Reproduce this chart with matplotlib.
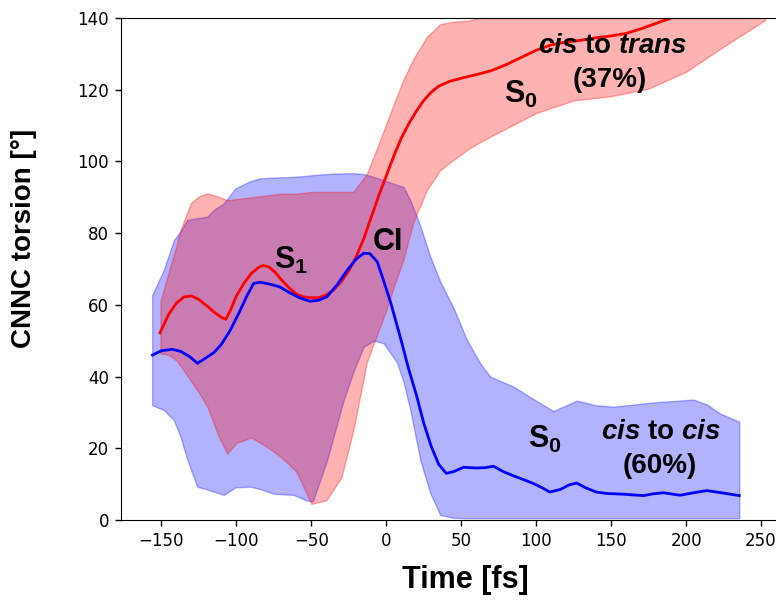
import numpy as np
import matplotlib
matplotlib.use("Agg")
import matplotlib.pyplot as plt

plt.rcParams['font.family'] = ['Liberation Sans', 'DejaVu Sans']
plt.rcParams['mathtext.fontset'] = 'custom'
plt.rcParams['mathtext.rm'] = 'Liberation Sans'
plt.rcParams['mathtext.bf'] = 'Liberation Sans:bold'
plt.rcParams['mathtext.it'] = 'Liberation Sans:italic'
plt.rcParams['mathtext.bfit'] = 'Liberation Sans:italic:bold'

# cis -> trans (red): mean torsion and spread
t_trans = [-151, -145, -140, -135, -130, -125, -120, -115, -110, -107, -104, -100, -95,
           -90, -85, -82, -78, -74, -70, -65, -60, -55, -50, -45, -40, -35, -30, -25,
           -20, -15, -10, -5, 0, 5, 10, 15, 20, 25, 30, 35, 42, 50, 60, 70, 80, 90,
           100, 110, 120, 130, 140, 150, 160, 170, 180, 190, 200, 220, 240, 252]
m_trans = [52.2, 57.5, 60.5, 62.2, 62.5, 61.5, 59.8, 58, 56.5, 56, 58.5, 62.5, 66,
           68.8, 70.5, 71, 70.5, 69, 67, 64.8, 63, 62.2, 62, 62, 62.8, 64.2, 66.5, 69.5,
           73.5, 78.5, 84.5, 90.5, 96, 101.5, 106.5, 110.5, 114, 117, 119.3, 121, 122.3,
           123.2, 124.2, 125.3, 127, 129, 131, 132.5, 133.3, 133.8, 134.5, 135, 135.7,
           137, 138.5, 140, 141.5, 144.5, 147, 148.5]

t_trans_band = [-150.7, -145, -140, -137.3, -130.4, -125, -119.3, -112, -106.2, -100, -90,
                -80, -70, -60, -50, -40, -30, -22, -13, -5, 0, 5, 11.3, 18, 27.1, 36,
                45, 55, 63, 80, 100, 125, 150, 175, 200, 225, 252.7]
lo_trans = [46.5, 46, 44.5, 43, 38.8, 35.5, 31.5, 23.5, 18.5, 21.5, 23, 20.5, 17.5, 13.5,
            4.5, 5.5, 11.8, 25, 44, 53, 58.5, 65, 72.5, 83, 92, 97.6, 100.5, 103.5, 105.5,
            109.2, 113.5, 117, 118.2, 120.3, 125, 132, 139.4]
hi_trans = [61, 69.4, 76.5, 80.9, 88.4, 90.3, 91.1, 90.2, 89.2, 89.5, 90, 90.5, 91, 91,
            91.5, 91.5, 91.5, 91.5, 96.5, 105, 110.5, 116, 122.7, 128.5, 134.8, 138.3,
            139, 139.3, 140.2, 143, 146, 149, 152, 154, 156, 158, 160]

# cis -> cis (blue): mean torsion and spread
t_cis = [-156, -150, -143, -137, -131, -126, -120, -115, -110, -104, -98, -93, -88.5,
         -84, -78, -71, -65, -58, -51, -45, -39.5, -33, -26, -20, -15, -11, -6, -2, 3,
         9, 15, 20, 25, 30, 35, 40, 45, 51.5, 60, 66, 71.5, 78, 85, 92, 98, 104, 109,
         116, 122, 127, 133, 140, 147, 158, 171.5, 178, 185, 196, 205, 214, 225, 235.5]
m_cis = [46, 47.2, 47.6, 47, 45.5, 43.7, 45.3, 46.7, 49, 53, 58, 62.5, 66, 66.3, 65.8,
         65, 63.5, 62, 61, 61.3, 62.3, 65.5, 69.7, 72.8, 74.4, 74.3, 72, 67, 60.5, 51.5,
         42, 35, 27, 20.5, 15.5, 13, 13.5, 14.7, 14.5, 14.6, 15, 13.5, 12.3, 11.2, 10.2,
         9, 7.8, 8.5, 9.8, 10.3, 9, 7.8, 7.4, 7.2, 6.8, 7.3, 7.6, 6.9, 7.6, 8.2, 7.5, 6.8]

t_cis_band = [-156.2, -148.5, -141.8, -137.3, -132.9, -126.2, -119.5, -115.1, -108.4,
              -100.7, -90.7, -84, -75.1, -61.8, -52.9, -49, -39.5, -28.4, -21.8, -15.1,
              -8.5, -1.8, 7, 11.5, 16, 22.7, 29.3, 36, 45, 53.8, 62.7, 69.3, 84.9, 97,
              111.5, 127.1, 140, 151.5, 165, 178.2, 192, 204.9, 214, 222.7, 235.5]
lo_cis = [32, 30.7, 27.9, 23.2, 17, 9.3, 8.5, 7.9, 7, 9.1, 9.3, 8.6, 7.3, 7, 5.4, 5.2,
          16.7, 33.5, 41.5, 48.3, 50, 49.3, 44, 38.5, 30.7, 16.7, 7.5, 1.4, 0.6, 0.5,
          0.5, 0.5, 0.5, 0.5, 0.5, 0.5, 0.5, 0.5, 0.5, 0.5, 0.5, 0.5, 0.5, 0.5, 0.5]
hi_cis = [62.7, 69.7, 78, 80.5, 83.7, 84.2, 84.6, 86.5, 88.3, 92.5, 94.5, 95.3, 95.5,
          95.7, 96, 96.2, 96.5, 96.7, 96.7, 96.5, 95.7, 94.8, 93.5, 92.9, 89.2, 82,
          73.5, 66.5, 59, 50.2, 43.7, 40, 37.2, 34, 30.4, 33.3, 32, 31.6, 32.2, 32.8,
          33.2, 33.6, 32.2, 29.7, 27.4]

fig = plt.figure(figsize=(7.76, 6.01), dpi=100)
ax = fig.add_axes([121 / 776, 81 / 601, 655 / 776, 502 / 601])

ax.fill_between(t_cis_band, lo_cis, hi_cis, color='blue', alpha=0.3, linewidth=1)
ax.fill_between(t_trans_band, lo_trans, hi_trans, color='red', alpha=0.3, linewidth=1)
ax.plot(t_trans, m_trans, color='red', lw=2)
ax.plot(t_cis, m_cis, color='blue', lw=2)

ax.set_xlim(-177, 260)
ax.set_ylim(0, 140)
ax.set_xticks([-150, -100, -50, 0, 50, 100, 150, 200, 250])
ax.set_yticks([0, 20, 40, 60, 80, 100, 120, 140])
ax.tick_params(labelsize=12, length=4.5, width=1, pad=4)
for lab in ax.get_xticklabels() + ax.get_yticklabels():
    lab.set_family('DejaVu Sans')
ax.spines['right'].set_visible(False)

ax.set_xlabel('Time [fs]', fontsize=22, fontweight='bold')
ax.set_ylabel('CNNC torsion [°]', fontsize=20, fontweight='bold')
ax.xaxis.set_label_coords(0.526, -0.09)
ax.yaxis.set_label_coords(-0.128, 0.56)

big = dict(fontsize=22, fontweight='bold', ha='left', va='baseline')
ax.text(-75, 70, r'S$_{\mathbf{1}}$', **big)
ax.text(-9, 75.3, 'CI', **big)
ax.text(78.7, 116.2, r'S$_{\mathbf{0}}$', **big)
ax.text(94.5, 20, r'S$_{\mathbf{0}}$', **big)

small = dict(fontsize=20, fontweight='bold', ha='center', va='baseline')
ax.text(151, 130.2, r'$\mathbfit{cis}$ to $\mathbfit{trans}$', **small)
ax.text(149.3, 120.8, '(37%)', **small)
ax.text(183.4, 22.5, r'$\mathbfit{cis}$ to $\mathbfit{cis}$', **small)
ax.text(182.7, 13.2, '(60%)', **small)

fig.savefig('out.png', dpi=100)
